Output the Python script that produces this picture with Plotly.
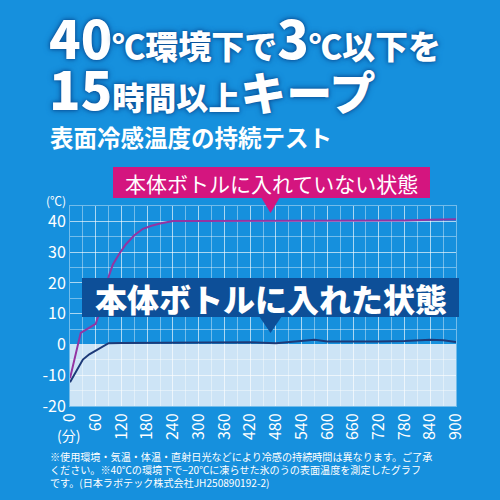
import plotly.graph_objects as go

# ---- data ----
minutes_without = [0, 25, 60, 70, 80, 90, 100, 115, 130, 150, 170, 190, 210, 240, 300, 420, 540, 660, 780, 840, 900]
temp_without = [-11, 3.8, 6.7, 11, 17, 22, 26, 29.5, 32.5, 35.5, 37.6, 38.6, 39.3, 40.1, 40.1, 40.1, 40.1, 40.2, 40.3, 40.5, 40.7]

minutes_with = [0, 15, 30, 45, 60, 75, 90, 120, 240, 360, 420, 480, 510, 570, 600, 660, 720, 780, 840, 870, 900]
temp_with = [-12.3, -8.5, -4.9, -3.2, -2.0, -0.8, 0.4, 0.5, 0.5, 0.6, 0.7, 0.4, 0.8, 1.5, 1.0, 0.9, 1.0, 1.1, 1.5, 1.4, 0.8]

x_ticks = [0, 60, 120, 180, 240, 300, 360, 420, 480, 540, 600, 660, 720, 780, 840, 900]
y_ticks = [-20, -10, 0, 10, 20, 30, 40]
y_tick_text = ["-20", "-10", "0", "10", "20", "30", "40"]

BG = "#1690dd"
GRID = "rgba(255,255,255,0.4)"
FONT = "Noto Sans CJK JP"

def px(x):
    return x / 500

def py(y):
    return 1 - y / 500

fig = go.Figure()
fig.add_trace(go.Scatter(x=minutes_with, y=temp_with, mode="lines",
                         line=dict(color="#1d3a78", width=2), hoverinfo="skip"))
fig.add_trace(go.Scatter(x=minutes_without, y=temp_without, mode="lines",
                         line=dict(color="#9334a2", width=2), hoverinfo="skip"))

shapes = [
    dict(type="rect", xref="x", yref="y", x0=0, x1=900, y0=-20, y1=0,
         fillcolor="#cde4f6", line_width=0, layer="below"),
    dict(type="rect", xref="paper", yref="paper", x0=px(113), x1=px(430), y0=py(198), y1=py(167),
         fillcolor="#d4157f", line_width=0),
    dict(type="path", xref="paper", yref="paper",
         path=f"M {px(261)},{py(197)} L {px(280)},{py(197)} L {px(270.5)},{py(213)} Z",
         fillcolor="#d4157f", line_width=0),
    dict(type="rect", xref="paper", yref="paper", x0=px(82), x1=px(459), y0=py(317), y1=py(278),
         fillcolor="#0d4f98", line_width=0),
    dict(type="path", xref="paper", yref="paper",
         path=f"M {px(259)},{py(316)} L {px(282)},{py(316)} L {px(270.5)},{py(333)} Z",
         fillcolor="#0d4f98", line_width=0),
]

shadow = "0px 0px 3px #0a4f96, 0px 0px 6px #0a4f96"
annotations = [
    dict(xref="paper", yref="paper", x=px(47), y=py(37), xanchor="left", yanchor="middle",
         text='<span style="font-size:52px">40</span>℃環境下で<span style="font-size:52px">3</span>℃以下を',
         showarrow=False, font=dict(family=FONT, size=33, color="white", weight=900, shadow=shadow)),
    dict(xref="paper", yref="paper", x=px(47), y=py(88), xanchor="left", yanchor="middle",
         text='<span style="font-size:52px">15</span>時間以上<span style="font-size:46px">キープ</span>',
         showarrow=False, font=dict(family=FONT, size=32, color="white", weight=900, shadow=shadow)),
    dict(xref="paper", yref="paper", x=px(48), y=py(137), xanchor="left", yanchor="middle",
         text="表面冷感温度の持続テスト",
         showarrow=False, font=dict(family=FONT, size=23.5, color="white", weight=700)),
    dict(xref="paper", yref="paper", x=px(271.5), y=py(182.5), xanchor="center", yanchor="middle",
         text="本体ボトルに入れていない状態",
         showarrow=False, font=dict(family=FONT, size=21, color="white")),
    dict(xref="paper", yref="paper", x=px(270.5), y=py(297.5), xanchor="center", yanchor="middle",
         text="本体ボトルに入れた状態",
         showarrow=False, font=dict(family=FONT, size=32, color="white", weight=900)),
    dict(xref="paper", yref="paper", x=px(56), y=py(200), xanchor="center", yanchor="middle",
         text="(℃)", showarrow=False, font=dict(family=FONT, size=12, color="white")),
    dict(xref="paper", yref="paper", x=px(68), y=py(435), xanchor="center", yanchor="middle",
         text="(分)", showarrow=False, font=dict(family=FONT, size=14, color="white")),
    dict(xref="paper", yref="paper", x=px(48), y=py(447), xanchor="left", yanchor="top", align="left",
         text="※使用環境・気温・体温・直射日光などにより冷感の持続時間は異なります。ご了承<br>"
              "ください。※40℃の環境下で−20℃に凍らせた氷のうの表面温度を測定したグラフ<br>"
              "です。(日本ラボテック株式会社JH250890192-2)",
         showarrow=False, font=dict(family=FONT, size=10.1, color="white")),
]

fig.update_layout(
    width=500, height=500,
    margin=dict(l=0, r=0, t=0, b=0),
    paper_bgcolor=BG, plot_bgcolor=BG,
    showlegend=False,
    shapes=shapes,
    annotations=annotations,
    xaxis=dict(domain=[px(70), px(456)], range=[0, 900], tickvals=x_ticks,
               tickangle=-90, tickfont=dict(family=FONT, size=16, color="white"),
               showgrid=True, gridcolor=GRID, gridwidth=1, zeroline=False,
               showline=True, mirror=True, linecolor=GRID, linewidth=1,
               ticks="", minor=dict(dtick=30, showgrid=True, gridcolor=GRID, gridwidth=1),
               fixedrange=True, automargin=False),
    yaxis=dict(domain=[py(406), py(206)], range=[-20, 45], tickvals=y_ticks, ticktext=y_tick_text,
               tickfont=dict(family=FONT, size=16, color="white"),
               showgrid=True, gridcolor=GRID, gridwidth=1, zeroline=False,
               showline=True, mirror=True, linecolor=GRID, linewidth=1,
               ticks="", minor=dict(dtick=5, showgrid=True, gridcolor=GRID, gridwidth=1),
               fixedrange=True, automargin=False),
)

fig.write_html("out.html", config={"displayModeBar": False},
               post_script="document.body.style.margin='0';document.body.style.overflow='hidden';")
